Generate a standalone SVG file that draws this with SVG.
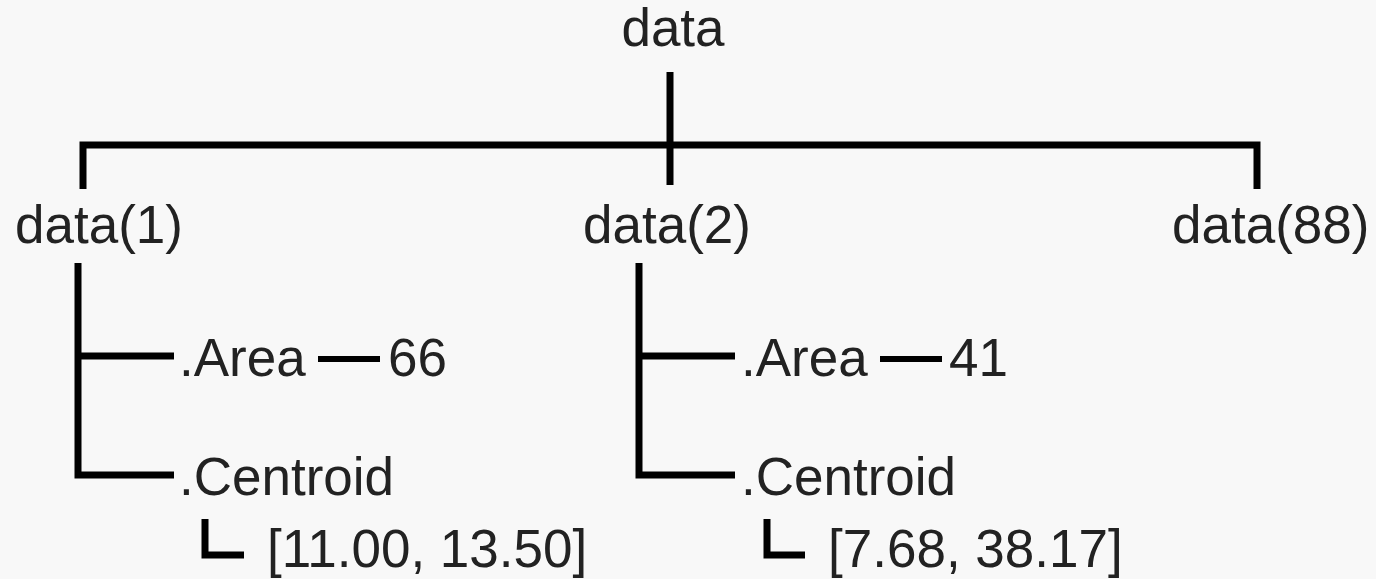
<svg xmlns="http://www.w3.org/2000/svg" width="1376" height="579" viewBox="0 0 1376 579">
<style>
.t{font-family:"Liberation Sans",Arial,sans-serif;font-size:53px;fill:#222}
.c{fill:none;stroke:#000;stroke-width:7;stroke-linecap:butt;stroke-linejoin:miter}
.d{fill:none;stroke:#000;stroke-width:6}
</style>
<rect width="1376" height="579" fill="#f8f8f8"/>
<g id="connectors">
<line class="c" x1="670" y1="72" x2="670" y2="185"/>
<polyline class="c" points="83,189 83,145 1257,145 1257,189"/>
<polyline class="c" points="78,263 78,475 174,475"/>
<line class="c" x1="78" y1="356" x2="174" y2="356"/>
<line class="d" x1="318" y1="359" x2="380" y2="359"/>
<polyline class="c" points="205,519 205,555 244,555"/>
<polyline class="c" points="639,263 639,475 735,475"/>
<line class="c" x1="639" y1="356" x2="735" y2="356"/>
<line class="d" x1="880" y1="359" x2="942" y2="359"/>
<polyline class="c" points="767,519 767,555 805,555"/>
</g>
<g id="root"><text class="t" x="673" y="46" text-anchor="middle">data</text></g>
<g id="data1"><text class="t" x="15" y="243">data(1)</text></g>
<g id="data2"><text class="t" x="583" y="243">data(2)</text></g>
<g id="data88"><text class="t" x="1172" y="243">data(88)</text></g>
<g id="area1"><text class="t" x="179" y="376">.Area</text></g>
<g id="area1val"><text class="t" x="388" y="376">66</text></g>
<g id="centroid1"><text class="t" x="179" y="495">.Centroid</text></g>
<g id="centroid1val"><text class="t" x="267" y="567">[11.00, 13.50]</text></g>
<g id="area2"><text class="t" x="741" y="376">.Area</text></g>
<g id="area2val"><text class="t" x="949" y="376">41</text></g>
<g id="centroid2"><text class="t" x="741" y="495">.Centroid</text></g>
<g id="centroid2val"><text class="t" x="828" y="567">[7.68, 38.17]</text></g>
</svg>
